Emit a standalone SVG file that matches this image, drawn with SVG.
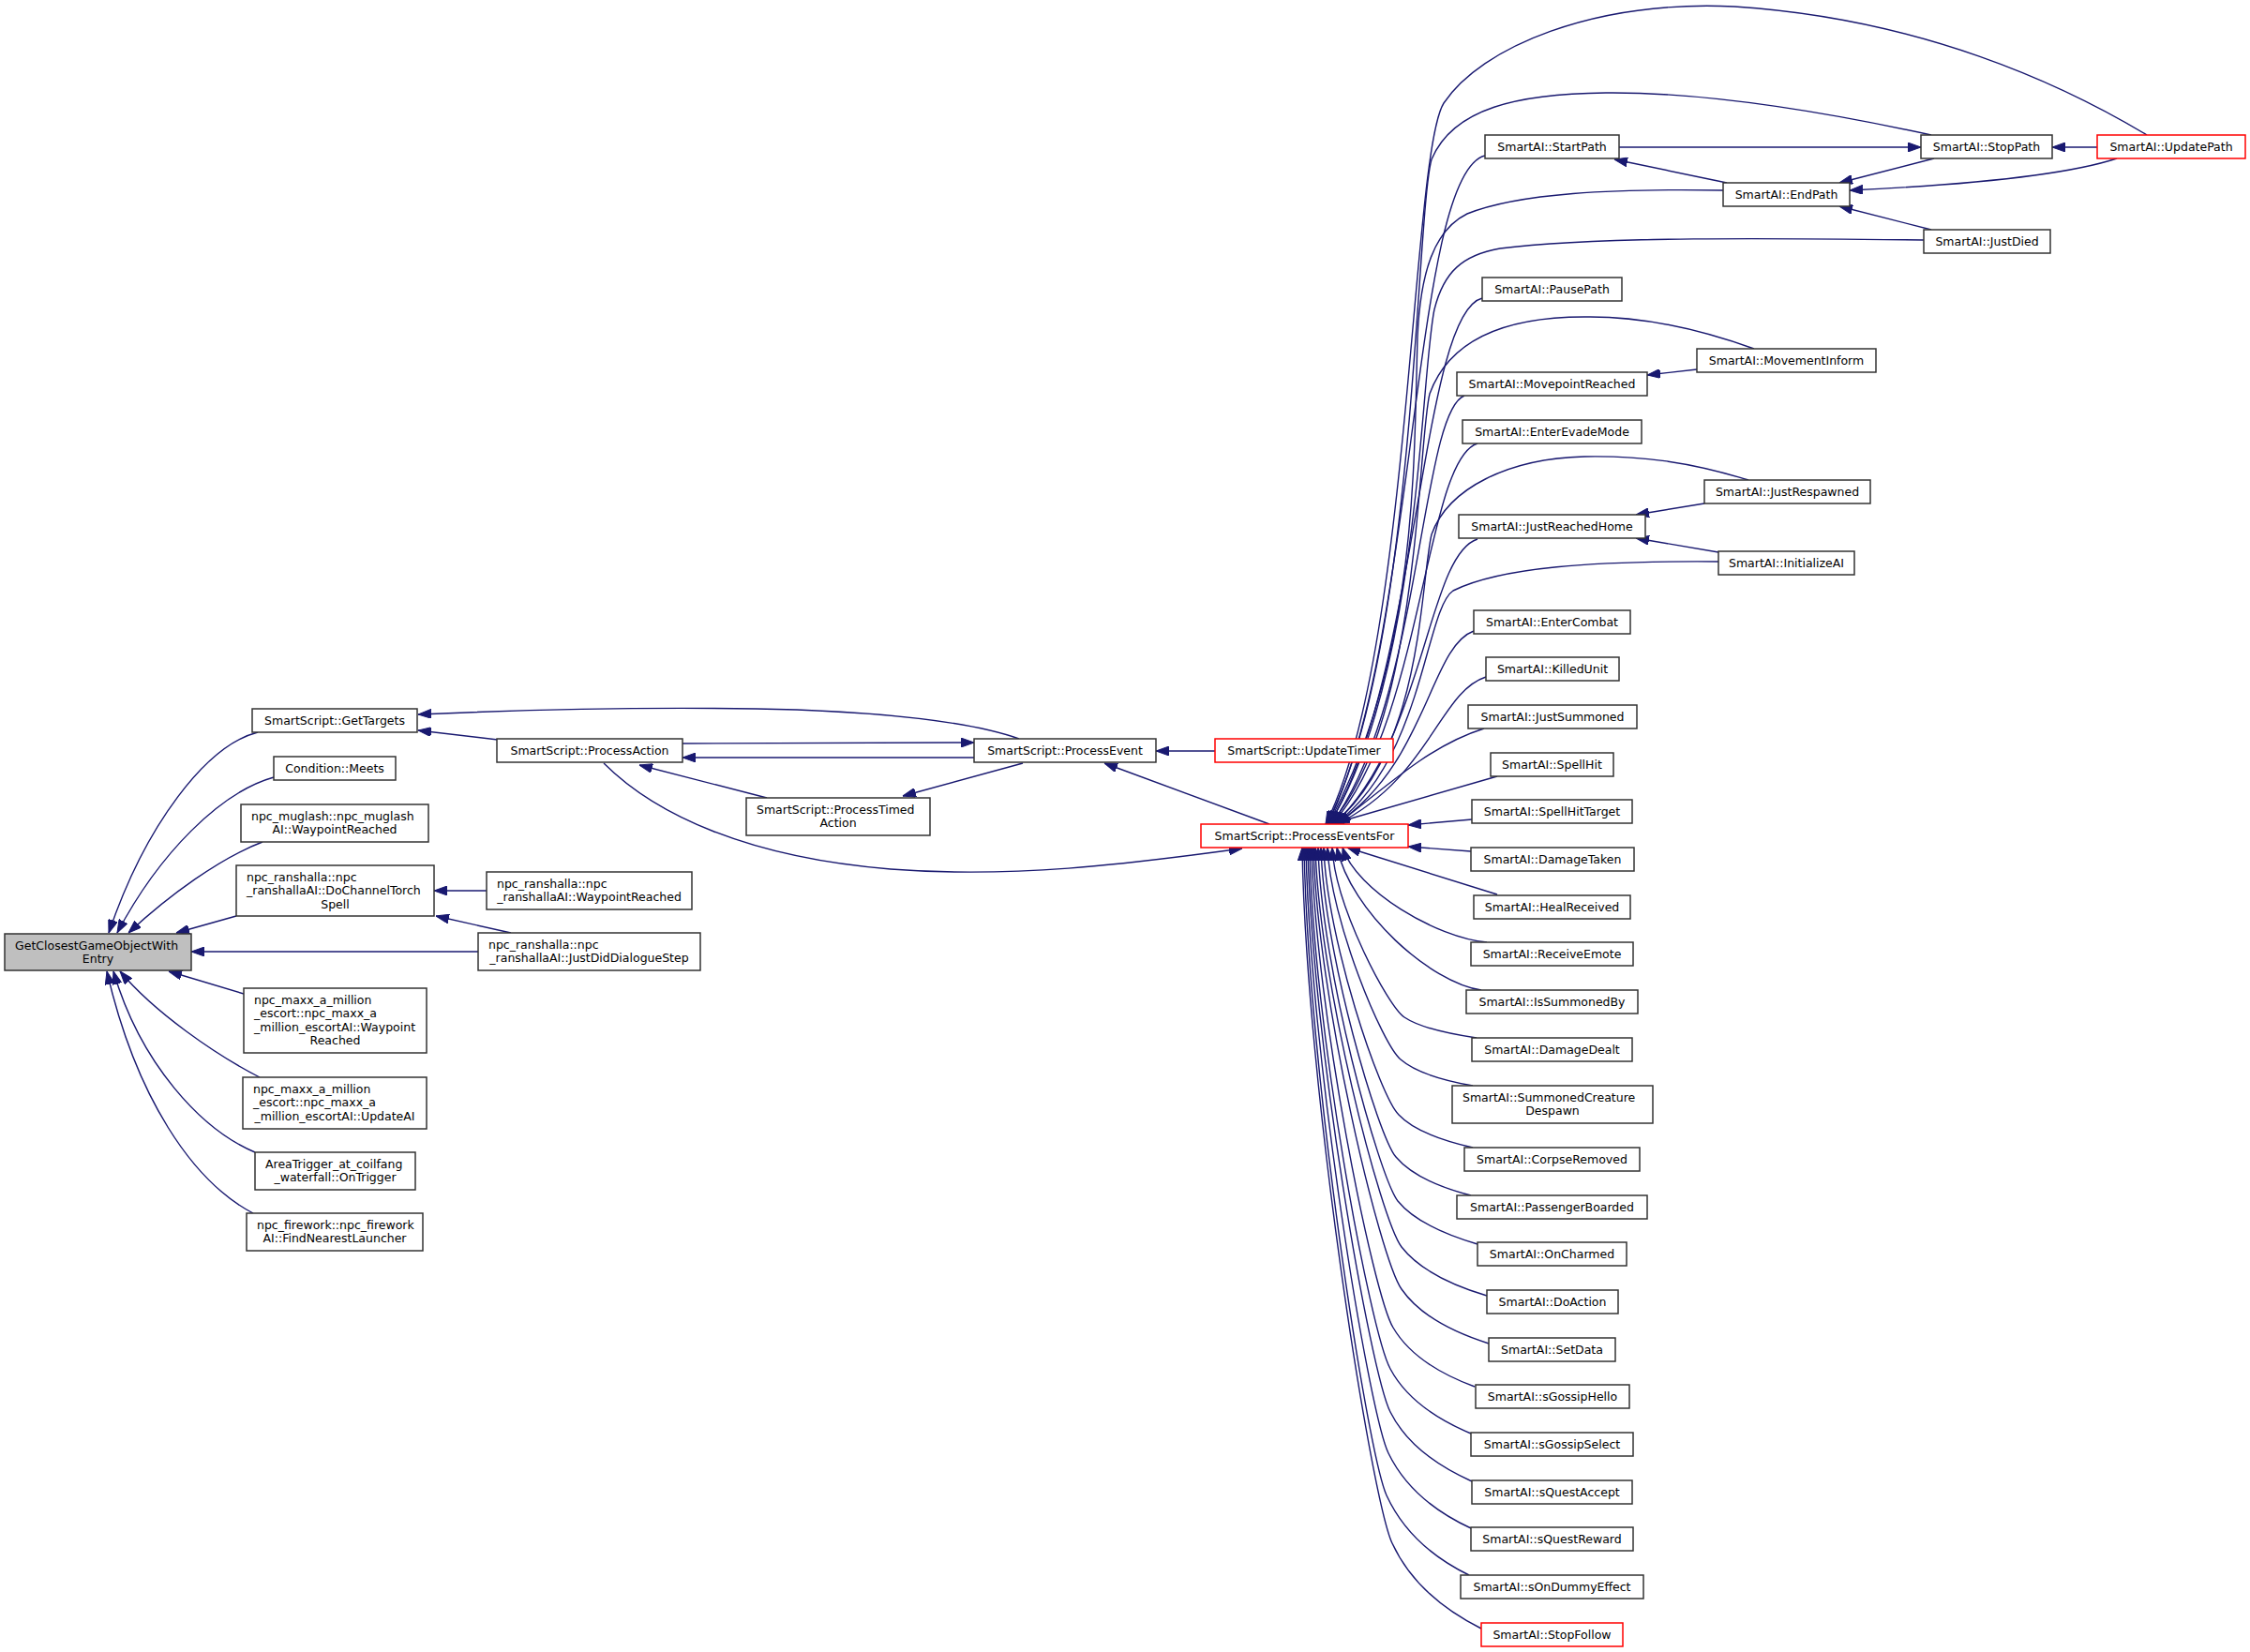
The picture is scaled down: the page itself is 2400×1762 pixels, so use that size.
<svg xmlns="http://www.w3.org/2000/svg" width="2400" height="1762" viewBox="0 0 2400 1762">
<style>
.node rect{fill:#fff;stroke:#333;stroke-width:1.5}
.node.red rect{stroke:#f00}
.node.hl rect{fill:#bfbfbf}
text{font-family:"DejaVu Sans","Liberation Sans",sans-serif;font-size:12.5px;fill:#000}
.c{text-anchor:middle}
.l{text-anchor:start}
#edges path{fill:none;stroke:#191970;stroke-width:1.4;marker-end:url(#ah)}
</style>
<defs>
<marker id="ah" viewBox="0 0 14 10" refX="14" refY="5" markerWidth="14" markerHeight="10" markerUnits="userSpaceOnUse" orient="auto"><path d="M0,0L14,5L0,10z" fill="#191970" stroke="#191970" stroke-width="1"/></marker>
</defs>
<rect x="0" y="0" width="2400" height="1762" fill="#fff"/>
<g id="edges">
<path d="M275,781 C220,795 155,880 116,995"/>
<path d="M292,829 C235,845 170,910 125,995"/>
<path d="M280,898 C235,915 180,955 137,995"/>
<path d="M252,977 L188,995"/>
<path d="M510,1015 L204,1015"/>
<path d="M260,1060 L180,1036"/>
<path d="M277,1149 C230,1125 165,1080 128,1036"/>
<path d="M272,1229 C215,1205 150,1135 121,1036"/>
<path d="M270,1294 C205,1260 145,1170 114,1036"/>
<path d="M531,789 L446,779"/>
<path d="M1087,788 C1050,775 980,762 850,757 C700,753 560,757 446,762"/>
<path d="M728,793 L1039,792"/>
<path d="M1039,808 L728,808"/>
<path d="M818,851 L682,816"/>
<path d="M1091,814 L963,849"/>
<path d="M1296,801 L1233,801"/>
<path d="M1354,879 L1178,814"/>
<path d="M644,814 C700,870 800,915 950,927 C1080,937 1200,922 1325,905"/>
<path d="M519,950 L463,950"/>
<path d="M545,995 L465,977"/>
<path d="M1727,157 L2049,157"/>
<path d="M1842,195 L1722,170"/>
<path d="M2063,169 L1962,195"/>
<path d="M2237,157 L2189,157"/>
<path d="M2258,169 C2200,188 2080,198 1973,203"/>
<path d="M2060,245 L1962,220"/>
<path d="M1810,394 L1757,400"/>
<path d="M1818,537 L1745,549"/>
<path d="M1833,589 L1745,574"/>
<path d="M1584,166 C1505,185 1512,690 1416,879"/>
<path d="M1581,318 C1515,335 1514,720 1418,879"/>
<path d="M1562,422 C1515,440 1516,750 1420,879"/>
<path d="M1576,473 C1520,490 1518,770 1421,879"/>
<path d="M1576,575 C1522,592 1520,790 1423,879"/>
<path d="M1572,673 C1525,690 1522,815 1425,879"/>
<path d="M1585,722 C1535,738 1525,830 1426,879"/>
<path d="M1583,777 C1535,792 1500,820 1427,879"/>
<path d="M1597,828 L1420,879"/>
<path d="M1871,372 C1810,350 1750,337 1690,338 C1600,338 1545,365 1525,420 C1512,470 1515,770 1419,879"/>
<path d="M1865,512 C1800,492 1750,486 1690,487 C1610,489 1545,520 1527,570 C1515,620 1518,800 1422,879"/>
<path d="M1833,599 C1700,598 1600,605 1550,630 C1520,650 1518,810 1424,879"/>
<path d="M1838,203 C1720,201 1620,206 1565,228 C1530,245 1515,290 1512,360 C1508,500 1512,700 1417,879"/>
<path d="M2052,256 C1900,254 1700,252 1600,265 C1560,272 1540,290 1530,330 C1515,400 1515,720 1418,879"/>
<path d="M2060,144 C1950,120 1820,98 1713,99 C1620,100 1550,115 1527,170 C1510,230 1510,700 1415,879"/>
<path d="M2290,144 C2200,90 2050,20 1850,7 C1700,0 1580,50 1540,110 C1505,165 1505,700 1414,879"/>
<path d="M1570,874 L1502,880"/>
<path d="M1569,908 L1502,903"/>
<path d="M1597,954 L1437,904"/>
<path d="M1586,1005 C1532,1000 1447,950 1432,904"/>
<path d="M1580,1056 C1526,1048 1441,973 1426,904"/>
<path d="M1575,1107 C1541,1102 1513,1095 1498,1085 C1480,1073 1424,966 1421,904"/>
<path d="M1571,1158 C1537,1152 1509,1143 1494,1130 C1475,1115 1419,981 1416,904"/>
<path d="M1571,1224 C1536,1216 1507,1205 1492,1189 C1472,1170 1415,1001 1412,904"/>
<path d="M1569,1275 C1534,1266 1505,1253 1489,1234 C1470,1212 1412,1016 1409,904"/>
<path d="M1576,1327 C1539,1316 1508,1302 1491,1281 C1471,1255 1409,1032 1406,904"/>
<path d="M1586,1382 C1546,1370 1513,1353 1495,1330 C1473,1301 1407,1048 1403,904"/>
<path d="M1588,1433 C1547,1420 1513,1401 1495,1375 C1472,1343 1405,1063 1401,904"/>
<path d="M1573,1479 C1535,1465 1503,1445 1486,1416 C1465,1382 1403,1077 1399,904"/>
<path d="M1569,1529 C1531,1513 1500,1492 1483,1460 C1462,1423 1400,1092 1397,904"/>
<path d="M1570,1580 C1532,1563 1500,1540 1483,1506 C1462,1465 1399,1108 1395,904"/>
<path d="M1569,1630 C1530,1612 1499,1587 1481,1550 C1460,1507 1397,1123 1393,904"/>
<path d="M1567,1680 C1528,1661 1497,1634 1479,1595 C1458,1548 1395,1138 1391,904"/>
<path d="M1580,1737 C1538,1716 1504,1687 1485,1646 C1462,1596 1393,1155 1389,904"/>
</g>
<g id="n_gc" class="node hl"><rect x="5" y="996" width="199" height="39"/><text class="l" x="16" y="1012.5">GetClosestGameObjectWith</text><text class="c" x="104.5" y="1027">Entry</text></g>
<g id="n_gt" class="node"><rect x="269" y="756" width="176" height="25"/><text class="c" x="357" y="773">SmartScript::GetTargets</text></g>
<g id="n_cm" class="node"><rect x="292" y="807" width="130" height="25"/><text class="c" x="357" y="824">Condition::Meets</text></g>
<g id="n_mug" class="node"><rect x="257" y="858" width="200" height="40"/><text class="l" x="268" y="874.5">npc_muglash::npc_muglash</text><text class="c" x="357" y="889">AI::WaypointReached</text></g>
<g id="n_dct" class="node"><rect x="252" y="923" width="211" height="54"/><text class="l" x="263" y="939.5">npc_ranshalla::npc</text><text class="l" x="263" y="954">_ranshallaAI::DoChannelTorch</text><text class="c" x="357.5" y="968.5">Spell</text></g>
<g id="n_mw" class="node"><rect x="260" y="1054" width="195" height="69"/><text class="l" x="271" y="1070.5">npc_maxx_a_million</text><text class="l" x="271" y="1085">_escort::npc_maxx_a</text><text class="l" x="271" y="1099.5">_million_escortAI::Waypoint</text><text class="c" x="357.5" y="1114">Reached</text></g>
<g id="n_mu" class="node"><rect x="259" y="1149" width="196" height="55"/><text class="l" x="270" y="1165.5">npc_maxx_a_million</text><text class="l" x="270" y="1180">_escort::npc_maxx_a</text><text class="c" x="357" y="1194.5">_million_escortAI::UpdateAI</text></g>
<g id="n_at" class="node"><rect x="272" y="1229" width="171" height="40"/><text class="l" x="283" y="1245.5">AreaTrigger_at_coilfang</text><text class="c" x="357.5" y="1260">_waterfall::OnTrigger</text></g>
<g id="n_fw" class="node"><rect x="263" y="1294" width="188" height="40"/><text class="l" x="274" y="1310.5">npc_firework::npc_firework</text><text class="c" x="357" y="1325">AI::FindNearestLauncher</text></g>
<g id="n_pa" class="node"><rect x="530" y="788" width="198" height="25"/><text class="c" x="629" y="805">SmartScript::ProcessAction</text></g>
<g id="n_rwr" class="node"><rect x="519" y="930" width="219" height="40"/><text class="l" x="530" y="946.5">npc_ranshalla::npc</text><text class="c" x="628.5" y="961">_ranshallaAI::WaypointReached</text></g>
<g id="n_rjd" class="node"><rect x="510" y="995" width="237" height="40"/><text class="l" x="521" y="1011.5">npc_ranshalla::npc</text><text class="c" x="628.5" y="1026">_ranshallaAI::JustDidDialogueStep</text></g>
<g id="n_pta" class="node"><rect x="796" y="851" width="196" height="40"/><text class="l" x="807" y="867.5">SmartScript::ProcessTimed</text><text class="c" x="894" y="882">Action</text></g>
<g id="n_pe" class="node"><rect x="1039" y="788" width="194" height="25"/><text class="c" x="1136" y="805">SmartScript::ProcessEvent</text></g>
<g id="n_ut" class="node red"><rect x="1296" y="788" width="190" height="25"/><text class="c" x="1391" y="805">SmartScript::UpdateTimer</text></g>
<g id="n_pef" class="node red"><rect x="1281" y="879" width="221" height="25"/><text class="c" x="1391.5" y="896">SmartScript::ProcessEventsFor</text></g>
<g id="n_startpath" class="node"><rect x="1584" y="144" width="143" height="25"/><text class="c" x="1655.5" y="161">SmartAI::StartPath</text></g>
<g id="n_stoppath" class="node"><rect x="2049" y="144" width="140" height="25"/><text class="c" x="2119" y="161">SmartAI::StopPath</text></g>
<g id="n_updatepath" class="node red"><rect x="2237" y="144" width="158" height="25"/><text class="c" x="2316" y="161">SmartAI::UpdatePath</text></g>
<g id="n_endpath" class="node"><rect x="1838" y="195" width="135" height="25"/><text class="c" x="1905.5" y="212">SmartAI::EndPath</text></g>
<g id="n_justdied" class="node"><rect x="2052" y="245" width="135" height="25"/><text class="c" x="2119.5" y="262">SmartAI::JustDied</text></g>
<g id="n_pausepath" class="node"><rect x="1581" y="296" width="149" height="25"/><text class="c" x="1655.5" y="313">SmartAI::PausePath</text></g>
<g id="n_movementinform" class="node"><rect x="1810" y="372" width="191" height="25"/><text class="c" x="1905.5" y="389">SmartAI::MovementInform</text></g>
<g id="n_movepointreached" class="node"><rect x="1554" y="397" width="203" height="25"/><text class="c" x="1655.5" y="414">SmartAI::MovepointReached</text></g>
<g id="n_enterevademode" class="node"><rect x="1560" y="448" width="191" height="25"/><text class="c" x="1655.5" y="465">SmartAI::EnterEvadeMode</text></g>
<g id="n_justrespawned" class="node"><rect x="1818" y="512" width="177" height="25"/><text class="c" x="1906.5" y="529">SmartAI::JustRespawned</text></g>
<g id="n_justreachedhome" class="node"><rect x="1556" y="549" width="199" height="25"/><text class="c" x="1655.5" y="566">SmartAI::JustReachedHome</text></g>
<g id="n_initializeai" class="node"><rect x="1833" y="588" width="145" height="25"/><text class="c" x="1905.5" y="605">SmartAI::InitializeAI</text></g>
<g id="n_entercombat" class="node"><rect x="1572" y="651" width="167" height="25"/><text class="c" x="1655.5" y="668">SmartAI::EnterCombat</text></g>
<g id="n_killedunit" class="node"><rect x="1585" y="701" width="142" height="25"/><text class="c" x="1656" y="718">SmartAI::KilledUnit</text></g>
<g id="n_justsummoned" class="node"><rect x="1566" y="752" width="180" height="25"/><text class="c" x="1656" y="769">SmartAI::JustSummoned</text></g>
<g id="n_spellhit" class="node"><rect x="1590" y="803" width="131" height="25"/><text class="c" x="1655.5" y="820">SmartAI::SpellHit</text></g>
<g id="n_spellhittarget" class="node"><rect x="1570" y="853" width="171" height="25"/><text class="c" x="1655.5" y="870">SmartAI::SpellHitTarget</text></g>
<g id="n_damagetaken" class="node"><rect x="1569" y="904" width="174" height="25"/><text class="c" x="1656" y="921">SmartAI::DamageTaken</text></g>
<g id="n_healreceived" class="node"><rect x="1572" y="955" width="167" height="25"/><text class="c" x="1655.5" y="972">SmartAI::HealReceived</text></g>
<g id="n_receiveemote" class="node"><rect x="1569" y="1005" width="173" height="25"/><text class="c" x="1655.5" y="1022">SmartAI::ReceiveEmote</text></g>
<g id="n_issummonedby" class="node"><rect x="1564" y="1056" width="183" height="25"/><text class="c" x="1655.5" y="1073">SmartAI::IsSummonedBy</text></g>
<g id="n_damagedealt" class="node"><rect x="1570" y="1107" width="171" height="25"/><text class="c" x="1655.5" y="1124">SmartAI::DamageDealt</text></g>
<g id="n_summonedcreaturedespawn" class="node"><rect x="1549" y="1158" width="214" height="40"/><text class="l" x="1560" y="1174.5">SmartAI::SummonedCreature</text><text class="c" x="1656" y="1189">Despawn</text></g>
<g id="n_corpseremoved" class="node"><rect x="1562" y="1224" width="187" height="25"/><text class="c" x="1655.5" y="1241">SmartAI::CorpseRemoved</text></g>
<g id="n_passengerboarded" class="node"><rect x="1554" y="1275" width="203" height="25"/><text class="c" x="1655.5" y="1292">SmartAI::PassengerBoarded</text></g>
<g id="n_oncharmed" class="node"><rect x="1576" y="1325" width="159" height="25"/><text class="c" x="1655.5" y="1342">SmartAI::OnCharmed</text></g>
<g id="n_doaction" class="node"><rect x="1586" y="1376" width="140" height="25"/><text class="c" x="1656" y="1393">SmartAI::DoAction</text></g>
<g id="n_setdata" class="node"><rect x="1588" y="1427" width="135" height="25"/><text class="c" x="1655.5" y="1444">SmartAI::SetData</text></g>
<g id="n_sgossiphello" class="node"><rect x="1574" y="1477" width="164" height="25"/><text class="c" x="1656" y="1494">SmartAI::sGossipHello</text></g>
<g id="n_sgossipselect" class="node"><rect x="1569" y="1528" width="173" height="25"/><text class="c" x="1655.5" y="1545">SmartAI::sGossipSelect</text></g>
<g id="n_squestaccept" class="node"><rect x="1570" y="1579" width="171" height="25"/><text class="c" x="1655.5" y="1596">SmartAI::sQuestAccept</text></g>
<g id="n_squestreward" class="node"><rect x="1569" y="1629" width="173" height="25"/><text class="c" x="1655.5" y="1646">SmartAI::sQuestReward</text></g>
<g id="n_sondummyeffect" class="node"><rect x="1558" y="1680" width="195" height="25"/><text class="c" x="1655.5" y="1697">SmartAI::sOnDummyEffect</text></g>
<g id="n_stopfollow" class="node red"><rect x="1580" y="1731" width="151" height="25"/><text class="c" x="1655.5" y="1748">SmartAI::StopFollow</text></g>
</svg>
